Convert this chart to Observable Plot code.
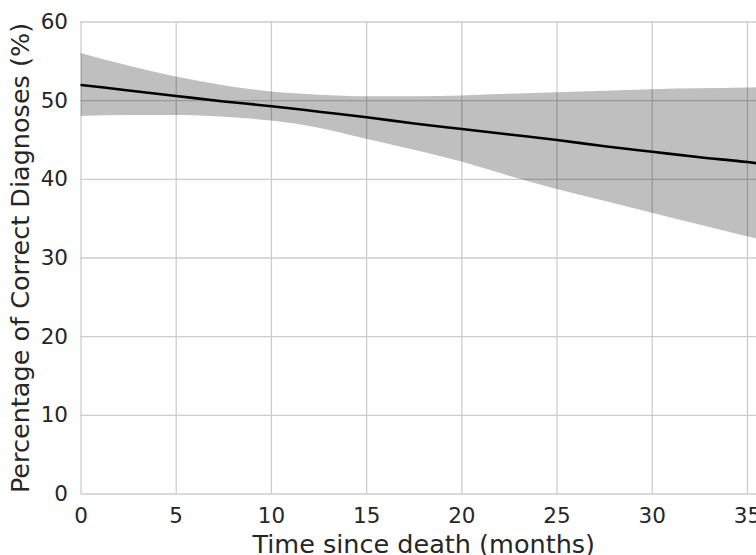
<!DOCTYPE html>
<html>
<head>
<meta charset="utf-8">
<script src="https://cdn.jsdelivr.net/npm/d3@7"></script>
<script src="https://cdn.jsdelivr.net/npm/@observablehq/plot@0.6"></script>
<style>
  html, body { margin: 0; padding: 0; background: white; overflow: hidden; }
  #chart { width: 756px; height: 555px; overflow: hidden; }
</style>
</head>
<body>
<div id="chart"></div>
<script>
// Months since death (sample positions along the fitted curve)
const months = [0, 2.5, 5, 7.5, 10, 12.5, 15, 17.5, 20, 22.5, 25, 27.5, 30, 32.5, 35, 36];
// Fitted percentage of correct diagnoses
const fitted = [52.0, 51.3, 50.6, 49.9, 49.3, 48.6, 47.9, 47.1, 46.4, 45.7, 45.0, 44.2, 43.5, 42.8, 42.2, 41.9];
// Confidence band
const upper = [56.0, 54.4, 53.0, 51.9, 51.1, 50.7, 50.5, 50.5, 50.6, 50.8, 51.0, 51.2, 51.4, 51.5, 51.6, 51.7];
const lower = [48.0, 48.1, 48.1, 47.9, 47.4, 46.5, 45.1, 43.7, 42.2, 40.4, 38.7, 37.2, 35.7, 34.2, 32.7, 32.1];

const xTicks = [0, 5, 10, 15, 20, 25, 30, 35];
const yTicks = [0, 10, 20, 30, 40, 50, 60];
const xLabel = "Time since death (months)";
const yLabel = "Percentage of Correct Diagnoses (%)";

const rows = months.map((m, i) => ({m, fit: fitted[i], hi: upper[i], lo: lower[i]}));

const textColor = "#262626";
const gridColor = "#cccccc";

const chart = Plot.plot({
  width: 766,
  height: 555,
  marginLeft: 80.5,
  marginRight: 0,
  marginTop: 21.5,
  marginBottom: 61.5,
  style: {fontFamily: "DejaVu Sans", color: textColor, background: "white", maxWidth: "none", overflow: "visible"},
  x: {domain: [0, 36]},
  y: {domain: [0, 60]},
  marks: [
    Plot.gridX(xTicks, {stroke: gridColor, strokeOpacity: 1, strokeWidth: 1.3}),
    Plot.gridY(yTicks, {stroke: gridColor, strokeOpacity: 1, strokeWidth: 1.3}),
    Plot.areaY(rows, {x: "m", y1: "lo", y2: "hi", fill: "#000000", fillOpacity: 0.25, curve: "monotone-x", clip: true}),
    Plot.lineY(rows, {x: "m", y: "fit", stroke: "#000000", strokeWidth: 2.6, curve: "monotone-x", clip: true}),
    Plot.axisX(xTicks, {tickSize: 0, tickPadding: 14, fontSize: 21.5, label: null, fill: textColor}),
    Plot.axisY(yTicks, {tickSize: 0, tickPadding: 13, fontSize: 21.5, label: null, fill: textColor}),
    Plot.text([xLabel], {frameAnchor: "bottom", lineAnchor: "bottom", dy: 58.5, fontSize: 25.5, fill: textColor, textAnchor: "middle"}),
    Plot.text([yLabel], {frameAnchor: "left", lineAnchor: "middle", dx: -60.5, rotate: -90, fontSize: 25.5, fill: textColor, textAnchor: "middle"})
  ]
});
document.getElementById("chart").appendChild(chart);
</script>
</body>
</html>
